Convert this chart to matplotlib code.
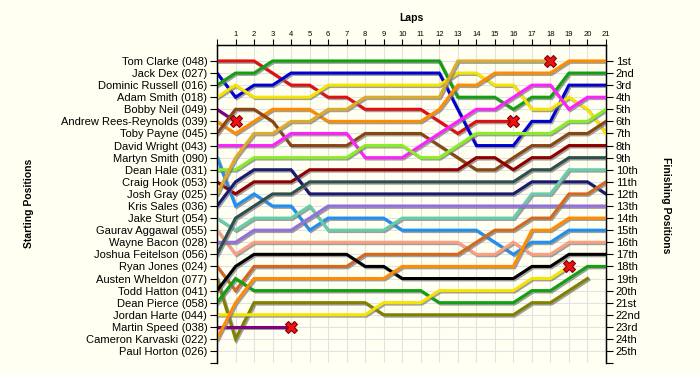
import matplotlib
matplotlib.use('Agg')
import matplotlib.pyplot as plt
import matplotlib.patheffects as pe

plt.rcParams['font.family'] = ['Liberation Sans', 'DejaVu Sans']

drivers = ['Tom Clarke (048)', 'Jack Dex (027)', 'Dominic Russell (016)', 'Adam Smith (018)',
           'Bobby Neil (049)', 'Andrew Rees-Reynolds (039)', 'Toby Payne (045)',
           'David Wright (043)', 'Martyn Smith (090)', 'Dean Hale (031)', 'Craig Hook (053)',
           'Josh Gray (025)', 'Kris Sales (036)', 'Jake Sturt (054)', 'Gaurav Aggawal (055)',
           'Wayne Bacon (028)', 'Joshua Feitelson (056)', 'Ryan Jones (024)',
           'Austen Wheldon (077)', 'Todd Hatton (041)', 'Dean Pierce (058)',
           'Jordan Harte (044)', 'Martin Speed (038)', 'Cameron Karvaski (022)',
           'Paul Horton (026)']
finish_labels = ['1st', '2nd', '3rd', '4th', '5th', '6th', '7th', '8th', '9th', '10th',
                 '11th', '12th', '13th', '14th', '15th', '16th', '17th', '18th', '19th',
                 '20th', '21st', '22nd', '23rd', '24th', '25th']
lap_labels = [''] + [str(i) for i in range(1, 22)]

# positions by lap (index 0 = start)
tom_clarke      = [1, 1, 1, 2, 3, 3, 4, 4, 5, 5, 5, 5, 6, 7, 6, 6, 6]
jack_dex        = [2, 4, 3, 3, 2, 2, 2, 2, 2, 2, 2, 2, 2, 5, 8, 8, 8, 6, 6, 3, 3, 3]
dominic_russell = [3, 2, 2, 1, 1, 1, 1, 1, 1, 1, 1, 1, 1, 4, 4, 4, 5, 4, 4, 2, 2, 2]
adam_smith      = [4, 3, 4, 4, 4, 4, 3, 3, 3, 3, 3, 3, 3, 2, 2, 3, 3, 5, 5, 4, 5, 7]
bobby_neil      = [5, 6]
andrew_rr       = [6, 7, 6, 5, 5, 5, 6, 6, 6, 6, 6, 6, 5, 3, 3, 2, 2, 2, 2, 1, 1, 1]
toby_payne      = [7, 5, 5, 6, 8, 8, 8, 8, 7, 7, 7, 7, 8, 9, 10, 10, 9, 8, 8, 7, 7, 6]
david_wright    = [8, 8, 8, 8, 7, 7, 7, 7, 9, 9, 9, 8, 7, 6, 5, 5, 4, 3, 3, 5, 4, 4]
martyn_smith    = [9, 13, 12, 13, 13, 15, 14, 14, 14, 14, 15, 15, 15, 15, 15, 16, 17, 16, 16, 15, 15, 15]
dean_hale       = [10, 10, 9, 9, 9, 9, 9, 9, 8, 8, 8, 9, 9, 8, 7, 7, 7, 7, 7, 6, 6, 5]
craig_hook      = [11, 12, 11, 11, 11, 10, 10, 10, 10, 10, 10, 10, 10, 10, 9, 9, 10, 9, 9, 8, 8, 8]
josh_gray       = [12, 9, 7, 7, 6, 6, 5, 5, 4, 4, 4, 4, 4, 1, 1, 1, 1, 1, 1]
kris_sales      = [13, 11, 10, 10, 10, 12, 12, 12, 12, 12, 12, 12, 12, 12, 12, 12, 12, 11, 11, 11, 11, 12]
jake_sturt      = [14, 15, 14, 14, 14, 13, 15, 15, 15, 15, 14, 14, 14, 14, 14, 14, 14, 12, 12, 10, 10, 10]
gaurav_aggawal  = [15, 17, 16, 16, 16, 16, 16, 16, 16, 16, 16, 16, 16, 16, 17, 17, 16, 17, 17, 16, 16, 16]
wayne_bacon     = [16, 16, 15, 15, 15, 14, 13, 13, 13, 13, 13, 13, 13, 13, 13, 13, 13, 13, 13, 13, 13, 13]
joshua_f        = [17, 14, 13, 12, 12, 11, 11, 11, 11, 11, 11, 11, 11, 11, 11, 11, 11, 10, 10, 9, 9, 9]
ryan_jones      = [18, 20, 18, 18, 18, 18, 18, 18, 17, 17, 17, 17, 17, 17, 16, 15, 15, 14, 14, 12, 12, 11]
austen_wheldon  = [19, 24, 21, 21, 21, 21, 21, 21, 21, 22, 22, 22, 22, 22, 22, 22, 22, 21, 21, 20, 19]
todd_hatton     = [20, 18, 17, 17, 17, 17, 17, 17, 18, 18, 19, 19, 19, 19, 19, 19, 19, 18, 18, 17, 17, 17]
dean_pierce     = [21, 19, 20, 20, 20, 20, 20, 20, 20, 20, 20, 20, 21, 21, 21, 21, 21, 20, 20, 19, 18, 18]
jordan_harte    = [22, 22, 22, 22, 22, 22, 22, 22, 22, 21, 21, 21, 20, 20, 20, 20, 20, 19, 19, 18]
martin_speed    = [23, 23, 23, 23, 23]
cameron_k       = [24, 21, 19, 19, 19, 19, 19, 19, 19, 19, 18, 18, 18, 18, 18, 18, 18, 15, 15, 14, 14, 14]
paul_horton     = []

series = [tom_clarke, jack_dex, dominic_russell, adam_smith, bobby_neil, andrew_rr, toby_payne,
          david_wright, martyn_smith, dean_hale, craig_hook, josh_gray, kris_sales, jake_sturt,
          gaurav_aggawal, wayne_bacon, joshua_f, ryan_jones, austen_wheldon, todd_hatton,
          dean_pierce, jordan_harte, martin_speed, cameron_k, paul_horton]
colors = ['#e01010', '#0000d0', '#12a012', '#f5e400', '#800080', '#ff8c00', '#8b4513',
          '#ff20ff', '#2090f0', '#88ee22', '#900000', '#dcab2a', '#1a1a70', '#66cdaa',
          '#f8a080', '#9370db', '#2f4f4f', '#d2691e', '#808000', '#000000',
          '#12a012', '#f5e400', '#800080', '#ff8c00', '#888888']
retired = [True, False, False, False, True, False, False, False, False, False, False, True,
           False, False, False, False, False, False, False, False, False, True, True, False, False]

bg = '#fffff2'
fig = plt.figure(figsize=(7, 3.75), dpi=100, facecolor=bg)
ax = fig.add_axes([0.31, 0.032, 0.5557, 0.848])
ax.set_facecolor(bg)

for pos_list, col, ret in zip(series, colors, retired):
    if not pos_list:
        continue
    x = list(range(len(pos_list)))
    ax.plot(x, pos_list, color=col, lw=2.2, solid_joinstyle='miter', zorder=3,
            path_effects=[pe.SimpleLineShadow(offset=(1.0, -1.0), shadow_color='#777777', alpha=0.7),
                          pe.Normal()])
    if ret:
        ax.plot(x[-1], pos_list[-1], marker='X', ms=9, color='#ee1111',
                markeredgecolor='#800000', markeredgewidth=0.8, zorder=6)

n = len(drivers)
ybottom = n + 0.99
ax.set_xlim(0, 21)
ax.set_ylim(ybottom, -0.32)
ax.set_xticks(range(22))
ax.set_xticklabels(lap_labels, fontsize=5.5)
ax.xaxis.tick_top()
ax.tick_params(axis='x', direction='out', length=4, pad=1, width=0.8)
ax.set_yticks(range(1, n + 1))
ax.set_yticklabels(drivers, fontsize=8)
ax.set_yticks([ybottom - 0.02], minor=True)
ax.tick_params(axis='y', which='both', direction='out', length=5, pad=2, width=0.8)
ax.grid(True, which='major', color='#e2e2e2', lw=0.8, zorder=0)

ax.spines['bottom'].set_visible(False)
for s in ['top', 'left', 'right']:
    ax.spines[s].set_linewidth(1.0)

ax2 = ax.twinx()
ax2.set_ylim(ax.get_ylim())
ax2.set_yticks(range(1, n + 1))
ax2.set_yticklabels(finish_labels, fontsize=8)
ax2.set_yticks([ybottom - 0.02], minor=True)
ax2.tick_params(axis='y', which='both', direction='out', length=5, pad=2, width=0.8)
ax2.spines['bottom'].set_visible(False)

fig.text(0.587, 0.952, 'Laps', fontsize=7.5, fontweight='bold', ha='center', va='center')
fig.text(0.041, 0.458, 'Starting Positions', fontsize=7.5, fontweight='bold',
         rotation=90, ha='center', va='center')
fig.text(0.951, 0.453, 'Finishing Positions', fontsize=7.5, fontweight='bold',
         rotation=-90, ha='center', va='center')

fig.savefig('out.png', dpi=100, facecolor=bg)
